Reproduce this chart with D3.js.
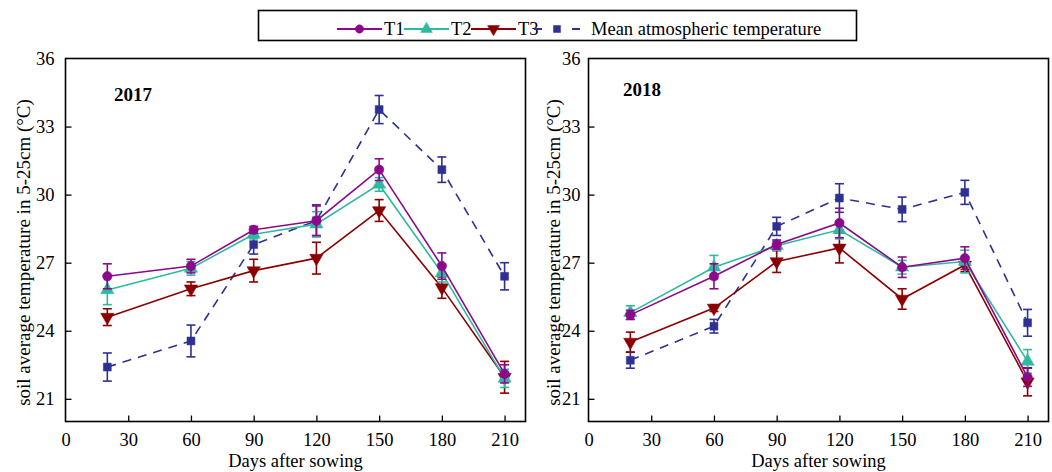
<!DOCTYPE html>
<html>
<head>
<meta charset="utf-8">
<script src="https://cdn.jsdelivr.net/npm/d3@7"></script>
<style>
  body { margin: 0; background: #fff; }
  svg { display: block; }
  .axis path { display: none; }
  .axis line { stroke: #000; stroke-width: 1.3; }
</style>
</head>
<body>
<div id="chart"></div>
<script>
(function () {
  'use strict';

  // data
  var days = [20, 60, 90, 120, 150, 180, 210];
  var xTicks = [0, 30, 60, 90, 120, 150, 180, 210];
  var yTicks = [21, 24, 27, 30, 33, 36];
  var seriesNames = ['T1', 'T2', 'T3', 'Mean atmospheric temperature'];
  var years = ['2017', '2018'];

  var t1_2017 = [26.4, 26.85, 28.45, 28.85, 31.1, 26.85, 22.1];
  var t1_2017err = [0.55, 0.3, 0.15, 0.65, 0.48, 0.58, 0.4];
  var t2_2017 = [25.8, 26.75, 28.25, 28.7, 30.45, 26.55, 21.9];
  var t2_2017err = [0.65, 0.3, 0.2, 0.55, 0.3, 0.4, 0.4];
  var t3_2017 = [24.6, 25.85, 26.65, 27.2, 29.3, 25.9, 21.95];
  var t3_2017err = [0.37, 0.3, 0.5, 0.7, 0.48, 0.47, 0.7];
  var mean_2017 = [22.4, 23.55, 27.8, 28.85, 33.75, 31.1, 26.4];
  var mean_2017err = [0.62, 0.7, 0.42, 0.7, 0.62, 0.56, 0.6];

  var t1_2018 = [24.7, 26.4, 27.8, 28.75, 26.8, 27.2, 21.95];
  var t1_2018err = [0.2, 0.55, 0.2, 0.65, 0.45, 0.5, 0.4];
  var t2_2018 = [24.8, 26.8, 27.75, 28.45, 26.8, 27.05, 22.65];
  var t2_2018err = [0.3, 0.52, 0.2, 0.4, 0.3, 0.5, 0.52];
  var t3_2018 = [23.5, 25.0, 27.05, 27.65, 25.4, 26.9, 21.75];
  var t3_2018err = [0.44, 0.15, 0.48, 0.66, 0.45, 0.3, 0.62];
  var mean_2018 = [22.7, 24.2, 28.6, 29.85, 29.35, 30.1, 24.35];
  var mean_2018err = [0.35, 0.3, 0.4, 0.63, 0.54, 0.53, 0.59];

  var colors = ['#8b0a8b', '#2fb9a0', '#8b0000', '#2e3192'];
  var symbols = ['circle', 'up', 'down', 'square'];
  var FONT = '"Liberation Serif", "Times New Roman", serif';

  var W = 1052, H = 472;
  var svg = d3.select('#chart').append('svg')
    .attr('width', W)
    .attr('height', H)
    .attr('font-family', FONT);

  var panels = [
    { year: years[0], left: 65.5, right: 525.5, labX: 30, yearX: 114, yearY: 101, pad: 11,
      series: [[t1_2017, t1_2017err], [t2_2017, t2_2017err], [t3_2017, t3_2017err], [mean_2017, mean_2017err]] },
    { year: years[1], left: 588.5, right: 1048.5, labX: 560, yearX: 623, yearY: 96, pad: 8,
      series: [[t1_2018, t1_2018err], [t2_2018, t2_2018err], [t3_2018, t3_2018err], [mean_2018, mean_2018err]] }
  ];
  var top = 58.5, bottom = 421.5;

  panels.forEach(drawPanel);
  drawLegend();

  function marker(g, type, color, size) {
    var s;
    if (type === 'circle') s = d3.symbol().type(d3.symbolCircle).size(size * 1.0);
    else if (type === 'square') s = d3.symbol().type(d3.symbolSquare).size(size * 0.9);
    else s = d3.symbol().type(d3.symbolTriangle).size(size * 1.1);
    g.append('path')
      .attr('d', s())
      .attr('transform', type === 'down' ? 'rotate(180)' : null)
      .attr('fill', color)
      .attr('stroke', color)
      .attr('stroke-width', 0.5);
  }

  function styleAxis(ax) {
    ax.attr('font-family', FONT).attr('font-size', 18.5);
    ax.selectAll('text').attr('fill', '#000');
  }

  function drawPanel(p) {
    var x = d3.scaleLinear().domain([0, 220]).range([p.left, p.right]);
    var y = d3.scaleLinear().domain([20, 36]).range([bottom, top]);
    var g = svg.append('g');

    // axes (ticks inside)
    var xa = g.append('g')
      .attr('class', 'axis')
      .attr('transform', 'translate(0,' + bottom + ')')
      .call(d3.axisBottom(x).tickValues(xTicks).tickSizeInner(-6).tickSizeOuter(0).tickPadding(11));
    xa.selectAll('line').filter(function (d) { return d === 0; }).remove();
    styleAxis(xa);

    var ya = g.append('g')
      .attr('class', 'axis')
      .attr('transform', 'translate(' + p.left + ',0)')
      .call(d3.axisLeft(y).tickValues(yTicks).tickSizeInner(-6).tickSizeOuter(0).tickPadding(p.pad));
    ya.selectAll('line').filter(function (d) { return d === 36; }).remove();
    styleAxis(ya);

    g.append('rect')
      .attr('x', p.left).attr('y', top)
      .attr('width', p.right - p.left).attr('height', bottom - top)
      .attr('fill', 'none').attr('stroke', '#000').attr('stroke-width', 1.6);

    // year label
    g.append('text')
      .attr('x', p.yearX).attr('y', p.yearY)
      .attr('font-size', 19).attr('font-weight', 'bold')
      .text(p.year);

    // axis titles
    g.append('text')
      .attr('x', (p.left + p.right) / 2).attr('y', 467)
      .attr('text-anchor', 'middle').attr('font-size', 18.5)
      .text('Days after sowing');

    g.append('text')
      .attr('transform', 'translate(' + p.labX + ',252.5) rotate(-90)')
      .attr('text-anchor', 'middle').attr('font-size', 19)
      .text('soil average temperature in 5-25cm (°C)');

    var line = d3.line()
      .x(function (d) { return x(d.day); })
      .y(function (d) { return y(d.v); });

    // draw mean first, then T3, T2, T1
    [3, 2, 1, 0].forEach(function (si) {
      var vals = p.series[si][0], errs = p.series[si][1];
      var pts = days.map(function (d, i) { return { day: d, v: vals[i], e: errs[i] }; });
      var c = colors[si];
      var sg = g.append('g');

      sg.append('path')
        .datum(pts)
        .attr('d', line)
        .attr('fill', 'none')
        .attr('stroke', c)
        .attr('stroke-width', 1.6)
        .attr('stroke-dasharray', si === 3 ? '9,7' : null);

      var eb = sg.selectAll('.eb').data(pts).enter().append('g');
      eb.append('line')
        .attr('x1', function (d) { return x(d.day); })
        .attr('x2', function (d) { return x(d.day); })
        .attr('y1', function (d) { return y(d.v - d.e); })
        .attr('y2', function (d) { return y(d.v + d.e); })
        .attr('stroke', c).attr('stroke-width', 1.6);
      [1, -1].forEach(function (sgn) {
        eb.append('line')
          .attr('x1', function (d) { return x(d.day) - 4.5; })
          .attr('x2', function (d) { return x(d.day) + 4.5; })
          .attr('y1', function (d) { return y(d.v + sgn * d.e); })
          .attr('y2', function (d) { return y(d.v + sgn * d.e); })
          .attr('stroke', c).attr('stroke-width', 1.6);
      });

      pts.forEach(function (d) {
        var mg = sg.append('g').attr('transform', 'translate(' + x(d.day) + ',' + y(d.v) + ')');
        marker(mg, symbols[si], c, 70);
      });
    });
  }

  function drawLegend() {
    var lg = svg.append('g');
    lg.append('rect')
      .attr('x', 258.5).attr('y', 10.5)
      .attr('width', 598).attr('height', 30)
      .attr('fill', '#fff').attr('stroke', '#000').attr('stroke-width', 1.6);

    var items = [
      { x0: 337, x1: 382, tx: 384 },
      { x0: 404, x1: 449, tx: 451 },
      { x0: 471, x1: 516, tx: 518 },
      { x0: 534, x1: 580, tx: 591 }
    ];
    var ly = 29;
    items.forEach(function (it, i) {
      lg.append('line')
        .attr('x1', it.x0).attr('x2', it.x1)
        .attr('y1', ly).attr('y2', ly)
        .attr('stroke', colors[i]).attr('stroke-width', 1.8)
        .attr('stroke-dasharray', i === 3 ? '8,30' : null);
      var mg = lg.append('g').attr('transform', 'translate(' + ((it.x0 + it.x1) / 2) + ',' + ly + ')');
      marker(mg, symbols[i], colors[i], 55);
      lg.append('text')
        .attr('x', it.tx).attr('y', ly + 6)
        .attr('font-size', 18.5)
        .text(seriesNames[i]);
    });
  }
}());
</script>
</body>
</html>
